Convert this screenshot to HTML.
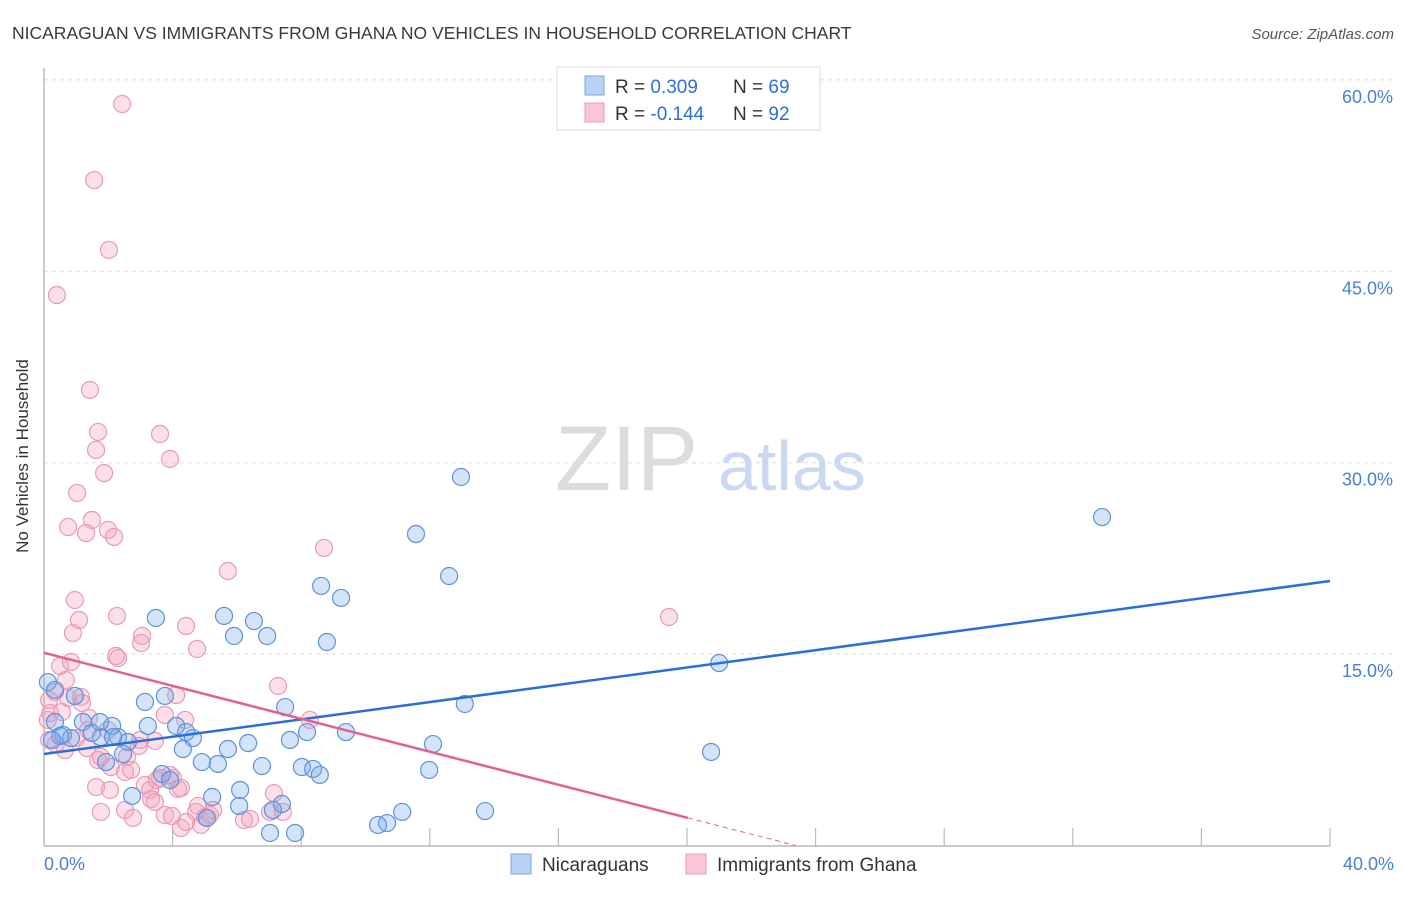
<!DOCTYPE html>
<html><head><meta charset="utf-8"><style>
body{margin:0;background:#fff;font-family:"Liberation Sans",sans-serif;}
svg text{font-family:"Liberation Sans",sans-serif;}
</style></head><body>
<svg width="1406" height="892" viewBox="0 0 1406 892" xmlns="http://www.w3.org/2000/svg">
<text x="12" y="39" font-size="17.5" fill="#3a3a3a">NICARAGUAN VS IMMIGRANTS FROM GHANA NO VEHICLES IN HOUSEHOLD CORRELATION CHART</text>
<text x="1394" y="39" font-size="15" fill="#555" font-style="italic" text-anchor="end">Source: ZipAtlas.com</text>
<g id="grid"></g>
<g>
<text x="555" y="490" font-size="92" font-family="Liberation Serif, serif" fill="#dcdcdc">ZIP</text>
<text x="718" y="490" font-size="70" fill="#c9daf0">atlas</text>
</g>
<line x1="44" y1="68" x2="44" y2="846" stroke="#aaa" stroke-width="1.2"/>
<line x1="44" y1="846" x2="1330" y2="846" stroke="#aaa" stroke-width="1.2"/>
<g id="ticks"></g>
<g id="pts"></g>
<g id="lines"></g>
<text x="28" y="456" font-size="17" fill="#333" text-anchor="middle" transform="rotate(-90 28 456)">No Vehicles in Household</text>
<text x="44" y="870" font-size="18" fill="#4a7fd4">0.0%</text>
<text x="1394" y="870" font-size="18" fill="#4a7fd4" text-anchor="end">40.0%</text>
<g>
<rect x="557" y="67" width="263" height="63" fill="#fff" stroke="#ddd"/>
<rect x="585" y="76" width="19" height="19" fill="#b9d3f4" stroke="#7aa7e0"/>
<rect x="585" y="103" width="19" height="19" fill="#f9c6d6" stroke="#eb9ab4"/>
<text x="615" y="93" font-size="19" fill="#333">R = <tspan fill="#2f6fd6">0.309</tspan></text>
<text x="733" y="93" font-size="19" fill="#333">N = <tspan fill="#2f6fd6">69</tspan></text>
<text x="615" y="120" font-size="19" fill="#333">R = <tspan fill="#2f6fd6">-0.144</tspan></text>
<text x="733" y="120" font-size="19" fill="#333">N = <tspan fill="#2f6fd6">92</tspan></text>
</g>
<g>
<rect x="511" y="854" width="20" height="20" fill="#b9d3f4" stroke="#7aa7e0"/>
<text x="542" y="871" font-size="19" fill="#333">Nicaraguans</text>
<rect x="686" y="854" width="20" height="20" fill="#f9c6d6" stroke="#eb9ab4"/>
<text x="717" y="871" font-size="19" fill="#333">Immigrants from Ghana</text>
</g>
</svg>
<script>
const yTicks=[15,30,45,60];
const yTickLabels=["15.0%","30.0%","45.0%","60.0%"];
const xTicks=[4,8,12,16,20,24,28,32,36,40];
const blueX=[12.97,32.91,11.57,12.60,8.62,9.24,3.48,5.60,6.53,5.91,6.94,8.80,21.00,0.12,3.76,7.50,13.09,3.14,0.96,1.21,2.12,3.23,4.11,4.42,4.63,8.18,9.39,0.34,0.59,0.84,1.77,2.30,2.61,4.32,5.72,6.35,12.10,20.75,2.46,4.91,5.41,6.78,8.02,8.37,8.58,11.98,3.67,3.92,1.93,2.74,5.23,6.10,7.40,6.07,7.12,5.07,13.72,11.14,10.67,10.39,7.03,7.81,0.50,0.25,1.49,1.74,7.65,0.34,2.15];
const blueY=[28.88,25.74,24.41,21.12,20.34,19.40,17.83,17.99,17.59,16.42,16.42,15.95,14.30,12.81,11.72,10.85,11.09,11.25,11.72,9.68,9.37,9.37,9.37,8.89,8.42,8.89,8.89,9.68,8.66,8.42,8.50,8.50,8.11,7.56,7.56,8.03,7.95,7.33,7.17,6.54,6.39,6.23,6.15,6.00,5.53,5.92,5.60,5.13,6.54,3.88,3.80,4.35,3.25,3.10,2.78,2.16,2.70,2.63,1.76,1.61,0.98,0.98,8.58,8.27,8.82,9.68,8.27,12.19,8.50];
const pinkX=[2.43,1.56,2.02,0.40,1.43,1.68,1.62,3.61,3.92,1.87,1.03,1.49,0.75,1.99,1.31,2.18,8.71,5.72,0.96,2.27,1.09,0.90,3.05,4.42,3.02,4.76,2.24,2.30,19.44,0.50,0.84,0.68,7.28,0.34,1.15,1.18,4.11,0.16,0.19,0.56,1.40,8.27,3.76,0.12,1.00,0.37,1.34,1.68,1.77,2.58,2.95,3.45,2.08,2.52,2.71,1.62,2.05,3.14,3.30,3.92,4.01,4.26,3.51,3.33,3.45,3.76,3.98,4.79,4.73,5.01,4.88,4.26,4.42,5.16,6.22,7.03,7.43,1.77,2.52,2.77,5.26,7.15,1.99,2.99,0.75,0.16,0.65,1.37,3.61,6.41,4.17,4.39];
const pinkY=[58.11,52.15,46.67,43.14,35.70,32.41,31.00,32.25,30.29,29.19,27.63,25.51,24.96,24.73,24.49,24.18,23.32,21.51,19.24,17.99,17.67,16.65,16.42,17.20,15.87,15.40,14.85,14.69,17.91,14.07,14.38,12.97,12.50,12.03,11.64,11.17,11.79,11.40,10.38,10.46,9.99,9.84,10.23,9.84,8.42,7.95,7.64,6.70,6.94,6.94,7.80,8.19,6.15,5.76,5.92,4.58,4.35,4.74,4.35,5.53,5.29,4.51,5.13,3.64,3.41,2.39,2.31,3.10,2.63,2.23,1.61,1.37,1.84,2.39,2.00,2.63,2.63,2.63,2.78,2.16,2.78,4.11,9.05,8.27,11.56,8.27,7.48,9.05,5.29,2.08,4.43,9.84];
const blueTrend=[7.17,20.73]; // y at x=0 and x=40
const pinkTrend=[15.1,-0.646]; // intercept, slope
const pinkSolidEnd=20.03;

const NS="http://www.w3.org/2000/svg";
const X=v=>44+v*32.15;
const Y=v=>845.5-v*12.76;
function mk(tag,attrs,parent){const e=document.createElementNS(NS,tag);for(const k in attrs)e.setAttribute(k,attrs[k]);parent.appendChild(e);return e;}
const grid=document.getElementById('grid');
yTicks.forEach((t,i)=>{
  const l=mk('line',{x1:44,x2:1394,y1:Y(t),y2:Y(t),stroke:'#ddd','stroke-dasharray':'4,4'},grid);
  
  
  const tx=mk('text',{x:1393,y:Y(t)+23,'font-size':18,fill:'#4a7fd4','text-anchor':'end'},grid);
  tx.textContent=yTickLabels[i];
  
  
});
const tk=document.getElementById('ticks');
xTicks.forEach(t=>{
  const l=mk('line',{x1:X(t),x2:X(t),y1:828,y2:846,stroke:'#bbb','stroke-width':1.2},tk);
  
  
});
const pts=document.getElementById('pts');
function dots(xs,ys,fill,stroke,name){
  xs.forEach((x,i)=>{
    const c=mk('circle',{cx:X(x),cy:Y(ys[i]),r:8.5,fill:fill,stroke:stroke,'stroke-width':1.2},pts);
    
    
  });
}
dots(pinkX,pinkY,'rgba(244,160,188,0.32)','#eb9ab4','ghana-point');
dots(blueX,blueY,'rgba(120,170,232,0.32)','#5d92dc','nicaraguan-point');
const ln=document.getElementById('lines');
const bl=mk('line',{x1:X(0),y1:Y(blueTrend[0]),x2:X(40),y2:Y(blueTrend[1]),stroke:'#2b6fd6','stroke-width':2.5},ln);


const pe=pinkTrend[0]+pinkTrend[1]*pinkSolidEnd;
const pl=mk('line',{x1:X(0),y1:Y(pinkTrend[0]),x2:X(pinkSolidEnd),y2:Y(pe),stroke:'#e0628f','stroke-width':2.5},ln);


const zx=-pinkTrend[0]/pinkTrend[1];
const pd=mk('line',{x1:X(pinkSolidEnd),y1:Y(pe),x2:X(zx),y2:Y(0),stroke:'#e0628f','stroke-width':1,'stroke-dasharray':'5,4'},ln);


</script>
</body></html>
